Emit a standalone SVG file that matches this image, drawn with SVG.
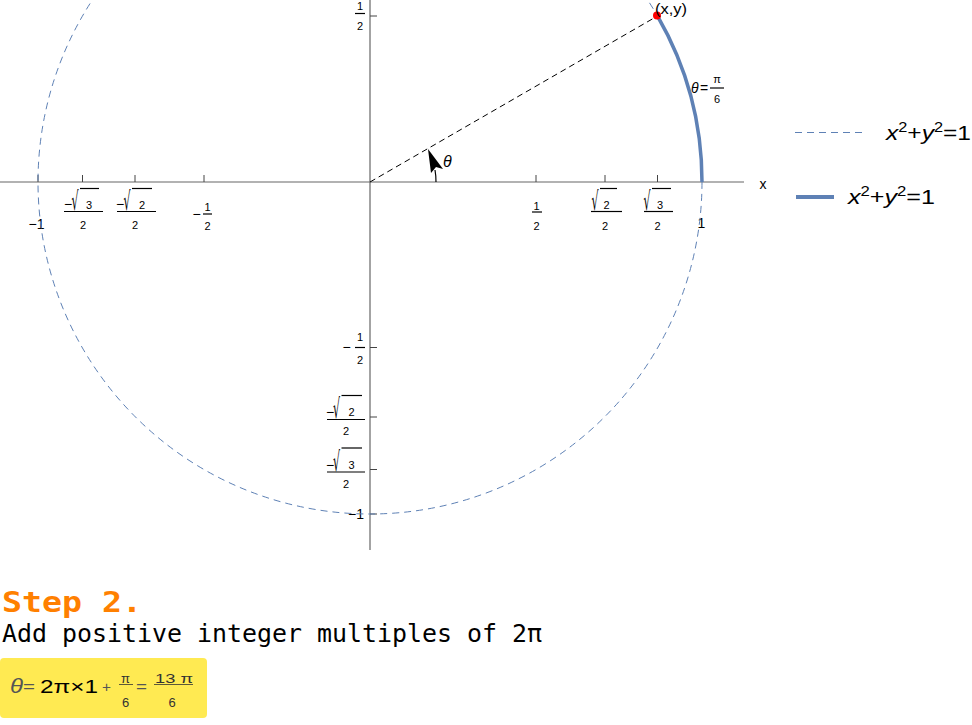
<svg xmlns="http://www.w3.org/2000/svg" width="972" height="725" viewBox="0 0 972 725">
<style>
.ax{stroke:#666;stroke-width:1.2;fill:none}
.tk{stroke:#444;stroke-width:1;fill:none}
.fb{stroke:#000;stroke-width:1.2}
.lb{font-family:"Liberation Sans",Arial,sans-serif;font-size:11px;fill:#000}
.mn{font-family:"Liberation Sans",Arial,sans-serif;font-size:14px;fill:#000}
.lb14{font-family:"Liberation Sans",Arial,sans-serif;font-size:14px;fill:#000}
.rad{font-family:"DejaVu Sans",sans-serif;font-size:20px;fill:#000}
.it{font-style:italic}
.circ{stroke:#5E81B5;stroke-width:1;fill:none;stroke-dasharray:7,5}
.arc{stroke:#5E81B5;stroke-width:3.5;fill:none}
.leg{font-family:"Liberation Sans",Arial,sans-serif;font-size:21px;fill:#000}
.mono{font-family:"DejaVu Sans Mono","Liberation Mono",monospace}
.fm{font-family:"Liberation Sans",Arial,sans-serif}
</style>
<rect width="972" height="725" fill="#fff"/>

<g id="axes">
  <line class="ax" x1="0" y1="182" x2="744" y2="182"/>
  <line class="ax" x1="370" y1="0" x2="370" y2="550"/>
  <path class="tk" d="M38,182V175M82.5,182V175M135,182V175M204,182V175M536,182V175M605,182V175M657.5,182V175M702,182V175"/>
  <path class="tk" d="M370,16H377M370,347.5H377M370,417H377M370,469.5H377M370,514H377"/>
  <text class="lb14" x="763" y="189" text-anchor="middle">x</text>
</g>

<g id="x-tick-labels">
  <text class="lb14" x="36.5" y="229" text-anchor="middle">−1</text>
  <!-- -sqrt3/2 -->
  <text class="mn" x="68" y="209" text-anchor="middle">−</text>
  <text class="rad" transform="translate(71.5,209.5) scale(0.55,1.3)">√</text>
  <line class="fb" x1="80" y1="188.5" x2="99" y2="188.5"/>
  <text class="lb" x="89" y="208.5" text-anchor="middle">3</text>
  <line class="fb" x1="64" y1="211.5" x2="103" y2="211.5"/>
  <text class="lb" x="83" y="229" text-anchor="middle">2</text>
  <!-- -sqrt2/2 -->
  <text class="mn" x="120" y="209" text-anchor="middle">−</text>
  <text class="rad" transform="translate(123.5,209.5) scale(0.55,1.3)">√</text>
  <line class="fb" x1="132" y1="188.5" x2="152" y2="188.5"/>
  <text class="lb" x="142" y="208.5" text-anchor="middle">2</text>
  <line class="fb" x1="117" y1="211.5" x2="156" y2="211.5"/>
  <text class="lb" x="135" y="229" text-anchor="middle">2</text>
  <!-- -1/2 -->
  <text class="mn" x="196.5" y="219" text-anchor="middle">−</text>
  <text class="lb" x="207.5" y="211" text-anchor="middle">1</text>
  <line class="fb" x1="203" y1="214" x2="212" y2="214"/>
  <text class="lb" x="207.5" y="230" text-anchor="middle">2</text>
  <!-- 1/2 -->
  <text class="lb" x="536.5" y="210" text-anchor="middle">1</text>
  <line class="fb" x1="532" y1="212" x2="542" y2="212"/>
  <text class="lb" x="536.5" y="230" text-anchor="middle">2</text>
  <!-- sqrt2/2 -->
  <text class="rad" transform="translate(591.5,209.5) scale(0.55,1.3)">√</text>
  <line class="fb" x1="600" y1="188.5" x2="617" y2="188.5"/>
  <text class="lb" x="606.5" y="208.5" text-anchor="middle">2</text>
  <line class="fb" x1="591" y1="211.5" x2="622" y2="211.5"/>
  <text class="lb" x="605" y="230" text-anchor="middle">2</text>
  <!-- sqrt3/2 -->
  <text class="rad" transform="translate(643.5,209.5) scale(0.55,1.3)">√</text>
  <line class="fb" x1="652" y1="188.5" x2="671" y2="188.5"/>
  <text class="lb" x="660" y="208.5" text-anchor="middle">3</text>
  <line class="fb" x1="644" y1="211.5" x2="673" y2="211.5"/>
  <text class="lb" x="657.5" y="230" text-anchor="middle">2</text>
  <text class="lb14" x="701.5" y="228" text-anchor="middle">1</text>
</g>

<g id="y-tick-labels">
  <!-- 1/2 -->
  <text class="lb" x="360" y="10" text-anchor="middle">1</text>
  <line class="fb" x1="355" y1="13.5" x2="365" y2="13.5"/>
  <text class="lb" x="360" y="30" text-anchor="middle">2</text>
  <!-- -1/2 -->
  <text class="mn" x="346.5" y="352" text-anchor="middle">−</text>
  <text class="lb" x="360" y="341" text-anchor="middle">1</text>
  <line class="fb" x1="355" y1="347.5" x2="365" y2="347.5"/>
  <text class="lb" x="360" y="364" text-anchor="middle">2</text>
  <!-- -sqrt2/2 -->
  <text class="mn" x="330" y="417" text-anchor="middle">−</text>
  <text class="rad" transform="translate(333,418) scale(0.55,1.35)">√</text>
  <line class="fb" x1="341.5" y1="395.5" x2="362" y2="395.5"/>
  <text class="lb" x="351.5" y="416" text-anchor="middle">2</text>
  <line class="fb" x1="327" y1="419.5" x2="365" y2="419.5"/>
  <text class="lb" x="346" y="435" text-anchor="middle">2</text>
  <!-- -sqrt3/2 -->
  <text class="mn" x="330" y="469.5" text-anchor="middle">−</text>
  <text class="rad" transform="translate(333,470.5) scale(0.55,1.35)">√</text>
  <line class="fb" x1="341.5" y1="448" x2="362" y2="448"/>
  <text class="lb" x="351.5" y="468.5" text-anchor="middle">3</text>
  <line class="fb" x1="327" y1="472" x2="365" y2="472"/>
  <text class="lb" x="346" y="488" text-anchor="middle">2</text>
  <text class="lb14" x="364" y="519" text-anchor="end">−1</text>
</g>

<g id="unit-circle">
  <circle class="circ" cx="370" cy="182" r="332"/>
  <path class="arc" d="M702,182 A332,332 0 0 0 657.5,16"/>
</g>

<g id="radius-line">
  <line x1="370" y1="182" x2="657.5" y2="16" stroke="#000" stroke-width="1" stroke-dasharray="6,4"/>
</g>

<g id="angle-arrow">
  <path d="M436,182 A66,66 0 0 0 435,170" stroke="#000" stroke-width="1.2" fill="none"/>
  <polygon points="428,149 443,169 436,167 431,173" fill="#000"/>
  <text class="it" x="443" y="167" font-family="Liberation Sans,Arial,sans-serif" font-size="16">θ</text>
</g>

<g id="point-xy">
  <circle cx="657" cy="15.5" r="4" fill="#f00"/>
  <text class="lb14" x="655" y="14" textLength="32" lengthAdjust="spacingAndGlyphs">(x,y)</text>
</g>

<g id="theta-label">
  <text class="lb14 it" x="691" y="93">θ</text>
  <text class="lb14" x="700" y="93">=</text>
  <text class="lb" x="717" y="83" text-anchor="middle">π</text>
  <line class="fb" x1="710" y1="88" x2="724" y2="88" stroke-width="1"/>
  <text class="lb" x="717" y="103" text-anchor="middle">6</text>
</g>

<g id="legend">
  <line class="circ" x1="795" y1="132.5" x2="865" y2="132.5"/>
  <text class="leg" x="886" y="140" textLength="85" lengthAdjust="spacingAndGlyphs"><tspan class="it">x</tspan><tspan font-size="14" dy="-8">2</tspan><tspan dy="8">+</tspan><tspan class="it">y</tspan><tspan font-size="14" dy="-8">2</tspan><tspan dy="8">=1</tspan></text>
  <line x1="796" y1="197" x2="834" y2="197" stroke="#5E81B5" stroke-width="4"/>
  <text class="leg" x="848" y="204" textLength="87" lengthAdjust="spacingAndGlyphs"><tspan class="it">x</tspan><tspan font-size="14" dy="-8">2</tspan><tspan dy="8">+</tspan><tspan class="it">y</tspan><tspan font-size="14" dy="-8">2</tspan><tspan dy="8">=1</tspan></text>
</g>

<g id="step">
  <text class="mono" x="2" y="612" font-size="28" font-weight="bold" fill="#FF8000" textLength="140" lengthAdjust="spacingAndGlyphs">Step 2.</text>
  <text class="mono" x="2" y="642" font-size="24" fill="#000" textLength="540" lengthAdjust="spacingAndGlyphs">Add positive integer multiples of 2π</text>
</g>

<g id="formula">
  <rect x="0" y="658" width="207" height="60" rx="4" fill="#FFEA52"/>
  <text class="fm it" x="10" y="693" font-size="20" fill="#555" textLength="13" lengthAdjust="spacingAndGlyphs">θ</text>
  <text class="fm" x="23" y="692" font-size="15" fill="#555" textLength="12" lengthAdjust="spacingAndGlyphs">=</text>
  <text class="fm" x="40" y="693" font-size="19" fill="#000" textLength="58" lengthAdjust="spacingAndGlyphs">2π×1</text>
  <text class="fm" x="102" y="692" font-size="14" fill="#555" textLength="9" lengthAdjust="spacingAndGlyphs">+</text>
  <text class="fm" x="125.5" y="683" font-size="13" fill="#333" text-anchor="middle">π</text>
  <line x1="119" y1="684.5" x2="133" y2="684.5" stroke="#333" stroke-width="0.8"/>
  <text class="fm" x="125.5" y="707" font-size="13" fill="#333" text-anchor="middle">6</text>
  <text class="fm" x="136" y="692" font-size="15" fill="#555" textLength="11" lengthAdjust="spacingAndGlyphs">=</text>
  <text class="fm" x="155" y="683" font-size="13" fill="#333" textLength="38" lengthAdjust="spacingAndGlyphs">13 π</text>
  <line x1="154" y1="684.5" x2="193" y2="684.5" stroke="#333" stroke-width="0.8"/>
  <text class="fm" x="172" y="707" font-size="13" fill="#333" text-anchor="middle">6</text>
</g>
</svg>
